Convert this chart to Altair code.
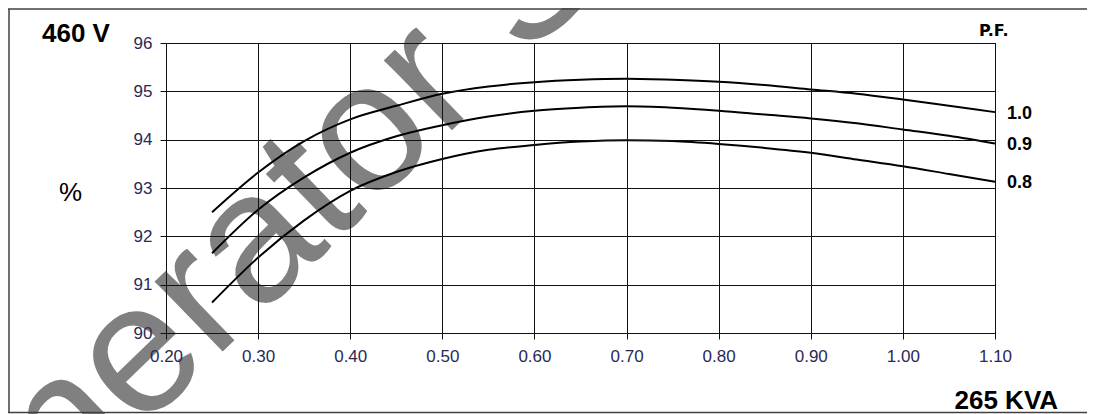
import altair as alt
import pandas as pd

# ---- data ----
kva = [0.25, 0.30, 0.35, 0.40, 0.45, 0.50, 0.55, 0.60, 0.65, 0.70,
       0.75, 0.80, 0.85, 0.90, 0.95, 1.00, 1.05, 1.10]
eff_pf10 = [92.50, 93.32, 93.97, 94.42, 94.70, 94.95, 95.10, 95.19, 95.24, 95.26,
            95.24, 95.20, 95.13, 95.04, 94.95, 94.83, 94.70, 94.57]
eff_pf09 = [91.65, 92.55, 93.22, 93.73, 94.07, 94.30, 94.48, 94.60, 94.66, 94.69,
            94.66, 94.60, 94.52, 94.44, 94.34, 94.21, 94.08, 93.92]
eff_pf08 = [90.63, 91.56, 92.33, 92.94, 93.33, 93.60, 93.79, 93.89, 93.96, 93.99,
            93.97, 93.91, 93.83, 93.73, 93.59, 93.45, 93.29, 93.13]
pf_labels = ["1.0", "0.9", "0.8"]
x_ticks = [0.2, 0.3, 0.4, 0.5, 0.6, 0.7, 0.8, 0.9, 1.0, 1.1]
y_ticks = [90, 91, 92, 93, 94, 95, 96]

rows = []
for lab, series in zip(pf_labels, [eff_pf10, eff_pf09, eff_pf08]):
    for k, e in zip(kva, series):
        rows.append({"kva": k, "eff": e, "pf": lab})
df = pd.DataFrame(rows)
ends = df[df["kva"] == kva[-1]].copy()

W, H = 829, 290
PAD_L, PAD_T = 158, 35
TOT_W, TOT_H = 1079, 406

xs = alt.Scale(domain=[0.2, 1.1], nice=False, zero=False)
ys = alt.Scale(domain=[90, 96], nice=False, zero=False)

x_axis = alt.Axis(values=x_ticks, format=".2f", title="265 KVA", zindex=1,
                  titleX=788, titleY=75, titleAlign="left", titleBaseline="alphabetic",
                  titleFont="Liberation Sans", titleFontSize=26, titleFontWeight="bold",
                  titleColor="#000000", titleAngle=0)
y_axis = alt.Axis(values=y_ticks, title="%", titleAngle=0, titleX=-96, titleY=149, zindex=1,
                  titleAlign="center", titleBaseline="middle",
                  titleFont="Liberation Sans", titleFontSize=26, titleFontWeight="normal",
                  titleColor="#000000")

watermark = alt.Chart(pd.DataFrame({"t": ["Generator Source"]})).mark_text(
    font="Liberation Sans", fontSize=185, color="#808080", angle=316,
    align="left", baseline="alphabetic"
).encode(x=alt.value(-278), y=alt.value(632), text="t:N")

lines = alt.Chart(df).mark_line(color="black", strokeWidth=2, interpolate="monotone").encode(
    x=alt.X("kva:Q", scale=xs, axis=x_axis),
    y=alt.Y("eff:Q", scale=ys, axis=y_axis),
    detail="pf:N",
)

end_labels = alt.Chart(ends).mark_text(
    align="left", baseline="middle", dx=12, dy=1.5,
    font="Liberation Sans", fontSize=18, fontWeight="bold", color="#000000"
).encode(x=alt.X("kva:Q", scale=xs), y=alt.Y("eff:Q", scale=ys), text="pf:N")

notes = pd.DataFrame({"t": ["460 V", "P.F."]})
title_txt = alt.Chart(notes[notes.t == "460 V"]).mark_text(
    align="left", baseline="alphabetic", font="Liberation Sans", fontSize=26,
    fontWeight="bold", color="#000000"
).encode(x=alt.value(42 - 166), y=alt.value(42 - 43), text="t:N")
pf_txt = alt.Chart(notes[notes.t == "P.F."]).mark_text(
    align="left", baseline="alphabetic", font="DejaVu Sans", fontSize=16,
    fontWeight="bold", color="#000000"
).encode(x=alt.value(979 - 166), y=alt.value(36 - 43), text="t:N")

frame_top = alt.Chart(notes.head(1)).mark_rule(color="#404040", strokeWidth=1.5).encode(
    x=alt.value(-158), x2=alt.value(940), y=alt.value(9 - 43))
frame_left = alt.Chart(notes.head(1)).mark_rule(color="#404040", strokeWidth=1.5).encode(
    x=alt.value(9 - 166), y=alt.value(9 - 43), y2=alt.value(412.5 - 43))
frame_bottom = alt.Chart(notes.head(1)).mark_rule(color="#404040", strokeWidth=1.5).encode(
    x=alt.value(-158), x2=alt.value(940), y=alt.value(412.5 - 43))

chart = alt.layer(
    watermark, lines, end_labels, title_txt, pf_txt, frame_top, frame_left, frame_bottom
).properties(
    width=W, height=H,
    autosize=alt.AutoSizeParams(type="none"),
    padding={"left": PAD_L, "top": PAD_T, "right": TOT_W - PAD_L - W, "bottom": TOT_H - PAD_T - H},
).configure_view(
    stroke="#111111", strokeWidth=1
).configure_axis(
    grid=True, gridColor="#111111", gridWidth=1, gridOpacity=1,
    domainColor="#111111", domainWidth=1, tickColor="#111111", tickSize=6, tickWidth=1,
    labelFont="Liberation Sans", labelFontSize=17, labelColor="#2a2a55",
    labelPadding=3, labelOverlap=False, labelFlush=False
).configure_axisY(labelPadding=8).configure_axisX(labelPadding=9)

chart.save("out.html", embed_options={"renderer": "svg", "actions": False})
